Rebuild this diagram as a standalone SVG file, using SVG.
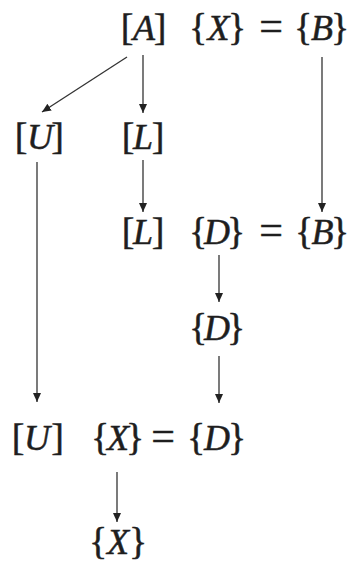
<svg xmlns="http://www.w3.org/2000/svg" width="348" height="562" viewBox="0 0 348 562">
<style>
text{font-family:"Liberation Serif","DejaVu Serif",serif;font-size:38px;fill:#1e1e1e;stroke:#1e1e1e;stroke-width:0.5;text-anchor:middle}
.v{font-style:italic;font-size:36px}
.e{font-size:42px}
.c line{stroke:#333;stroke-width:1.3;fill:none}
</style>
<defs>
<marker id="ah" markerUnits="userSpaceOnUse" markerWidth="9" markerHeight="8" refX="9" refY="4" orient="auto">
<path d="M0,0 L9,4 L0,8 z" fill="#222"/>
</marker>
</defs>
<rect width="348" height="562" fill="#fff"/>
<g class="c" id="connectors">
<line x1="127" y1="57" x2="42" y2="112" marker-end="url(#ah)"/>
<line x1="143" y1="55" x2="143" y2="113" marker-end="url(#ah)"/>
<line x1="322" y1="57" x2="322" y2="212" marker-end="url(#ah)"/>
<line x1="143" y1="160" x2="143" y2="212" marker-end="url(#ah)"/>
<line x1="37" y1="162" x2="37" y2="402" marker-end="url(#ah)"/>
<line x1="219" y1="255" x2="219" y2="302" marker-end="url(#ah)"/>
<line x1="219" y1="356" x2="219" y2="403" marker-end="url(#ah)"/>
<line x1="117" y1="472" x2="117" y2="522" marker-end="url(#ah)"/>
</g>
<g id="nA"><text y="40"><tspan x="127">[</tspan><tspan x="144" class="v">A</tspan><tspan x="160">]</tspan></text></g>
<g id="nXB"><text y="40"><tspan x="198">{</tspan><tspan x="218.5" class="v">X</tspan><tspan x="237">}</tspan><tspan x="271" class="e">=</tspan><tspan x="303">{</tspan><tspan x="322" class="v">B</tspan><tspan x="340">}</tspan></text></g>
<g id="nU1"><text y="149"><tspan x="21">[</tspan><tspan x="40" class="v">U</tspan><tspan x="57.5">]</tspan></text></g>
<g id="nL1"><text y="149"><tspan x="128">[</tspan><tspan x="143" class="v">L</tspan><tspan x="158">]</tspan></text></g>
<g id="nL2"><text y="244"><tspan x="128">[</tspan><tspan x="143" class="v">L</tspan><tspan x="158">]</tspan></text></g>
<g id="nDB"><text y="244"><tspan x="198">{</tspan><tspan x="217" class="v">D</tspan><tspan x="236">}</tspan><tspan x="271" class="e">=</tspan><tspan x="304">{</tspan><tspan x="322.5" class="v">B</tspan><tspan x="340">}</tspan></text></g>
<g id="nD"><text y="340"><tspan x="198">{</tspan><tspan x="217" class="v">D</tspan><tspan x="236">}</tspan></text></g>
<g id="nU2"><text y="450"><tspan x="18">[</tspan><tspan x="37" class="v">U</tspan><tspan x="57.5">]</tspan></text></g>
<g id="nXD"><text y="450"><tspan x="100">{</tspan><tspan x="118" class="v">X</tspan><tspan x="135">}</tspan><tspan x="163" class="e">=</tspan><tspan x="196">{</tspan><tspan x="217" class="v">D</tspan><tspan x="237">}</tspan></text></g>
<g id="nX"><text y="554"><tspan x="98">{</tspan><tspan x="118" class="v">X</tspan><tspan x="138">}</tspan></text></g>
</svg>
